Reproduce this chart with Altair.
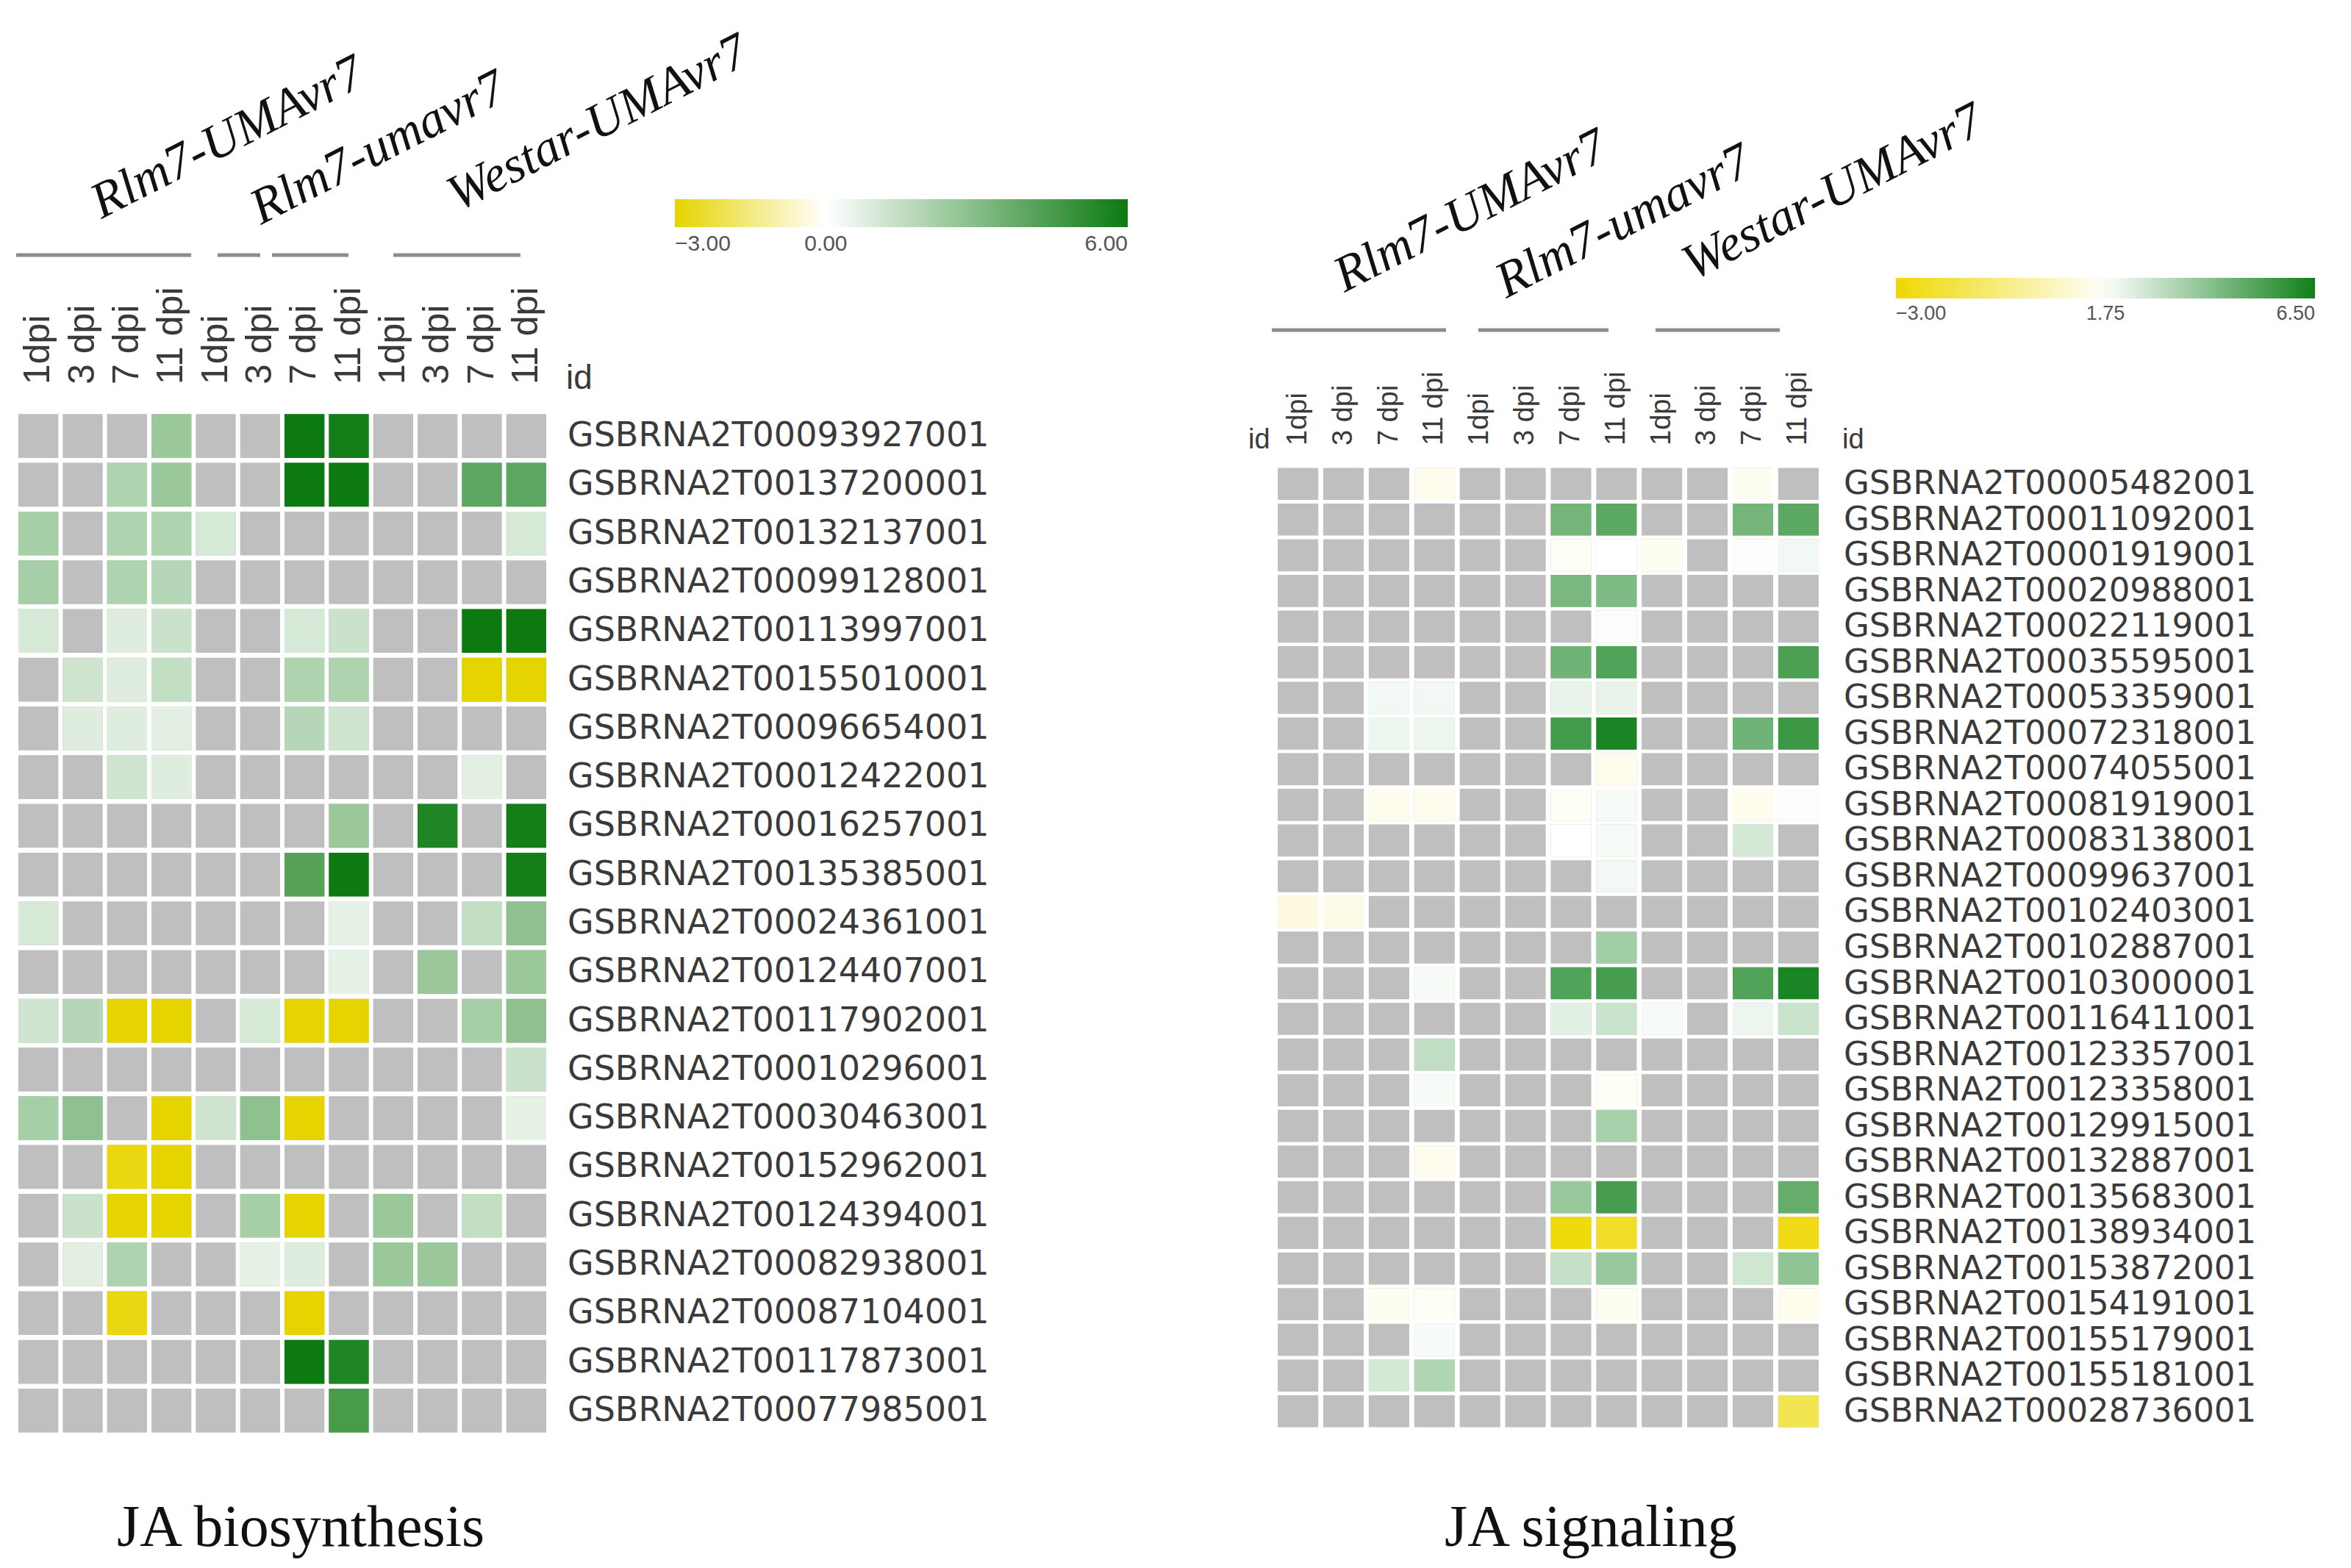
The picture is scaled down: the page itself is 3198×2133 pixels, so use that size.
import altair as alt
import pandas as pd

N = None

# ---------------- data ----------------
time_labels = ["1dpi", "3 dpi", "7 dpi", "11 dpi"] * 3
groups = ["Rlm7-UMAvr7", "Rlm7-umavr7", "Westar-UMAvr7"]

left_ids = [
    "GSBRNA2T00093927001", "GSBRNA2T00137200001", "GSBRNA2T00132137001",
    "GSBRNA2T00099128001", "GSBRNA2T00113997001", "GSBRNA2T00155010001",
    "GSBRNA2T00096654001", "GSBRNA2T00012422001", "GSBRNA2T00016257001",
    "GSBRNA2T00135385001", "GSBRNA2T00024361001", "GSBRNA2T00124407001",
    "GSBRNA2T00117902001", "GSBRNA2T00010296001", "GSBRNA2T00030463001",
    "GSBRNA2T00152962001", "GSBRNA2T00124394001", "GSBRNA2T00082938001",
    "GSBRNA2T00087104001", "GSBRNA2T00117873001", "GSBRNA2T00077985001",
]
left_values = [
    [N, N, N, 2.5, N, N, 6, 5.8, N, N, N, N],
    [N, N, 2, 2.5, N, N, 6, 6, N, N, 4, 4],
    [2.2, N, 2, 2, 1, N, N, N, N, N, N, 1],
    [2.2, N, 2, 1.8, N, N, N, N, N, N, N, N],
    [1, N, 0.8, 1.3, N, N, 1, 1.3, N, N, 6, 6],
    [N, 1.2, 0.8, 1.5, N, N, 2, 2, N, N, -3, -3],
    [N, 0.8, 0.8, 0.7, N, N, 1.8, 1.2, N, N, N, N],
    [N, N, 1.2, 0.8, N, N, N, N, N, N, 0.7, N],
    [N, N, N, N, N, N, N, 2.5, N, 5.5, N, 5.8],
    [N, N, N, N, N, N, 4.2, 6, N, N, N, 5.8],
    [1, N, N, N, N, N, N, 0.6, N, N, 1.5, 2.8],
    [N, N, N, N, N, N, N, 0.6, N, 2.5, N, 2.5],
    [1.2, 1.8, -3, -3, N, 1, -3, -3, N, N, 2.2, 2.8],
    [N, N, N, N, N, N, N, N, N, N, N, 1.3],
    [2.2, 2.8, N, -3, 1.2, 2.8, -3, N, N, N, N, 0.6],
    [N, N, -2.8, -3, N, N, N, N, N, N, N, N],
    [N, 1.3, -3, -3, N, 2.2, -3, N, 2.5, N, 1.5, N],
    [N, 0.7, 2, N, N, 0.6, 0.8, N, 2.5, 2.5, N, N],
    [N, N, -2.8, N, N, N, -3, N, N, N, N, N],
    [N, N, N, N, N, N, 6, 5.5, N, N, N, N],
    [N, N, N, N, N, N, N, 4.5, N, N, N, N],
]

right_ids = [
    "GSBRNA2T00005482001", "GSBRNA2T00011092001", "GSBRNA2T00001919001",
    "GSBRNA2T00020988001", "GSBRNA2T00022119001", "GSBRNA2T00035595001",
    "GSBRNA2T00053359001", "GSBRNA2T00072318001", "GSBRNA2T00074055001",
    "GSBRNA2T00081919001", "GSBRNA2T00083138001", "GSBRNA2T00099637001",
    "GSBRNA2T00102403001", "GSBRNA2T00102887001", "GSBRNA2T00103000001",
    "GSBRNA2T00116411001", "GSBRNA2T00123357001", "GSBRNA2T00123358001",
    "GSBRNA2T00129915001", "GSBRNA2T00132887001", "GSBRNA2T00135683001",
    "GSBRNA2T00138934001", "GSBRNA2T00153872001", "GSBRNA2T00154191001",
    "GSBRNA2T00155179001", "GSBRNA2T00155181001", "GSBRNA2T00028736001",
]
right_values = [
    [N, N, N, 1.4, N, N, N, N, N, N, 1.5, N],
    [N, N, N, N, N, N, 4.5, 5, N, N, 4.5, 5],
    [N, N, N, N, N, N, 1.6, 1.75, 1.5, N, 1.8, 2.0],
    [N, N, N, N, N, N, 4.4, 4.3, N, N, N, N],
    [N, N, N, N, N, N, N, 1.8, N, N, N, N],
    [N, N, N, N, N, N, 4.6, 5.2, N, N, N, 5.3],
    [N, N, 2.0, 2.0, N, N, 2.2, 2.2, N, N, N, N],
    [N, N, 2.1, 2.1, N, N, 5.5, 6.3, N, N, 4.6, 5.6],
    [N, N, N, N, N, N, N, 1.4, N, N, N, N],
    [N, N, 1.4, 1.4, N, N, 1.6, 1.9, N, N, 1.4, 1.8],
    [N, N, N, N, N, N, 1.75, 1.9, N, N, 2.6, N],
    [N, N, N, N, N, N, N, 2.0, N, N, N, N],
    [1.2, 1.3, N, N, N, N, N, N, N, N, N, N],
    [N, N, N, N, N, N, N, 3.6, N, N, N, N],
    [N, N, N, 1.9, N, N, 5.2, 5.4, N, N, 5.2, 6.3],
    [N, N, N, N, N, N, 2.3, 2.8, 1.9, N, 2.1, 2.8],
    [N, N, N, 3.0, N, N, N, N, N, N, N, N],
    [N, N, N, 1.9, N, N, N, 1.6, N, N, N, N],
    [N, N, N, N, N, N, N, 3.5, N, N, N, N],
    [N, N, N, 1.4, N, N, N, N, N, N, N, N],
    [N, N, N, N, N, N, 3.8, 5.4, N, N, N, 4.8],
    [N, N, N, N, N, N, -2.8, -2.3, N, N, N, -2.6],
    [N, N, N, N, N, N, 2.9, 3.8, N, N, 2.7, 4.0],
    [N, N, 1.5, 1.6, N, N, N, 1.5, N, N, N, 1.4],
    [N, N, N, 1.9, N, N, N, N, N, N, N, N],
    [N, N, 2.6, 3.3, N, N, N, N, N, N, N, N],
    [N, N, N, N, N, N, N, N, N, N, N, -1.5],
]

left_title = "JA biosynthesis"
right_title = "JA signaling"
left_legend_values = [-3, 0, 6]
right_legend_values = [-3, 1.75, 6.5]

# ---------------- tables ----------------
def long_table(ids, values):
    rows = []
    for gid, vals in zip(ids, values):
        for c, v in enumerate(vals):
            rows.append({"id": gid, "c": c, "v": v})
    return pd.DataFrame(rows)

left_df = long_table(left_ids, left_values)
right_df = long_table(right_ids, right_values)
col_df = pd.DataFrame({"c": list(range(12)), "lab": time_labels})
left_id_df = pd.DataFrame({"id": left_ids})
right_id_df = pd.DataFrame({"id": right_ids})

# ---------------- layout (page pixels) ----------------
M = 8  # page margin
def P(v):
    return v - M

cols_domain = list(range(12))
LX = alt.Scale(domain=cols_domain, range=[P(22), P(746)], paddingInner=0.1, paddingOuter=0.05)
LY = alt.Scale(domain=left_ids, range=[P(560), P(1952)], paddingInner=0.1, paddingOuter=0.05)
RX = alt.Scale(domain=cols_domain, range=[P(1735), P(2477)], paddingInner=0.11, paddingOuter=0.05)
RY = alt.Scale(domain=right_ids, range=[P(634), P(1944)], paddingInner=0.1, paddingOuter=0.05)

GRAY = "#bfbfbf"
TEXT = "#3a3a3a"

layers = []

# heatmap cells
for df, xs, ys, dom, rng, leg in [
    (left_df, LX, LY, left_legend_values, ["#e6d400", "#ffffff", "#0c7a10"],
     dict(legendX=P(918), legendY=P(271), gradientLength=616, gradientThickness=38,
          labelFontSize=30, labelOffset=8)),
    (right_df, RX, RY, right_legend_values, ["#eed800", "#ffffff", "#10801a"],
     dict(legendX=P(2579), legendY=P(378), gradientLength=570, gradientThickness=28,
          labelFontSize=27, labelOffset=8)),
]:
    base = alt.Chart(df)
    layers.append(
        base.mark_rect(color=GRAY).encode(
            x=alt.X("c:O", scale=xs, axis=None),
            y=alt.Y("id:N", scale=ys, axis=None),
        )
    )
    layers.append(
        base.transform_filter("isValid(datum.v)").mark_rect().encode(
            x=alt.X("c:O", scale=xs, axis=None),
            y=alt.Y("id:N", scale=ys, axis=None),
            color=alt.Color(
                "v:Q",
                scale=alt.Scale(domain=dom, range=rng, interpolate="rgb"),
                legend=alt.Legend(
                    orient="none", direction="horizontal", title=None,
                    values=dom, format=".2f", labelAlign="center",
                    labelColor="#555555", labelFont="Liberation Sans",
                    gradientStrokeWidth=0, padding=0, **leg,
                ),
            ),
        )
    )

# row labels
layers.append(
    alt.Chart(left_id_df).mark_text(
        align="left", baseline="middle", font="DejaVu Sans", fontSize=46, color=TEXT
    ).encode(y=alt.Y("id:N", scale=LY, axis=None), x=alt.value(P(772)), text="id:N")
)
layers.append(
    alt.Chart(right_id_df).mark_text(
        align="left", baseline="middle", font="DejaVu Sans", fontSize=45, color=TEXT
    ).encode(y=alt.Y("id:N", scale=RY, axis=None), x=alt.value(P(2508)), text="id:N")
)

# column labels
layers.append(
    alt.Chart(col_df).mark_text(
        angle=270, align="left", baseline="middle", font="Liberation Sans",
        fontSize=50, color=TEXT
    ).encode(x=alt.X("c:O", scale=LX, axis=None), y=alt.value(P(523)), text="lab:N")
)
layers.append(
    alt.Chart(col_df).mark_text(
        angle=270, align="left", baseline="middle", font="Liberation Sans",
        fontSize=38, color=TEXT
    ).encode(x=alt.X("c:O", scale=RX, axis=None), y=alt.value(P(606)), text="lab:N")
)

# "id" captions
id_pos = [(770, 529, 46), (1698, 610, 38), (2506, 610, 38)]
for px, py, fs in id_pos:
    layers.append(
        alt.Chart(pd.DataFrame({"t": ["id"]})).mark_text(
            align="left", baseline="alphabetic", font="Liberation Sans",
            fontSize=fs, color=TEXT
        ).encode(x=alt.value(P(px)), y=alt.value(P(py)), text="t:N")
    )

# group labels (rotated, italic serif)
group_pos = [(138, 298), (355, 306), (623, 288), (1829, 398), (2049, 406), (2303, 382)]
for i, (px, py) in enumerate(group_pos):
    layers.append(
        alt.Chart(pd.DataFrame({"t": [groups[i % 3]]})).mark_text(
            align="left", baseline="alphabetic", angle=333, font="Liberation Serif",
            fontStyle="italic", fontSize=69, color="#111111"
        ).encode(x=alt.value(P(px)), y=alt.value(P(py)), text="t:N")
    )

# group underline rules
rule_pos = [
    (22, 260, 347), (296, 354, 347), (370, 474, 347), (535, 708, 347),
    (1730, 1967, 449), (2011, 2188, 449), (2252, 2421, 449),
]
for x1, x2, yy in rule_pos:
    layers.append(
        alt.Chart(pd.DataFrame({"k": [0]})).mark_rule(color="#8c8c8c", strokeWidth=5).encode(
            x=alt.value(P(x1)), x2=alt.value(P(x2)), y=alt.value(P(yy))
        )
    )

# panel titles
for txt, px in [(left_title, 159), (right_title, 1965)]:
    layers.append(
        alt.Chart(pd.DataFrame({"t": [txt]})).mark_text(
            align="left", baseline="alphabetic", font="Liberation Serif",
            fontSize=80, color="#111111"
        ).encode(x=alt.value(P(px)), y=alt.value(P(2103)), text="t:N")
    )

chart = alt.layer(*layers).resolve_scale(
    x="independent", y="independent", color="independent"
).properties(
    width=3180, height=2115, autosize=alt.AutoSizeParams(type="none"), padding=0,
    background="white",
).configure_view(stroke=None)

chart.save("out.html", embed_options={"renderer": "svg", "actions": False})
